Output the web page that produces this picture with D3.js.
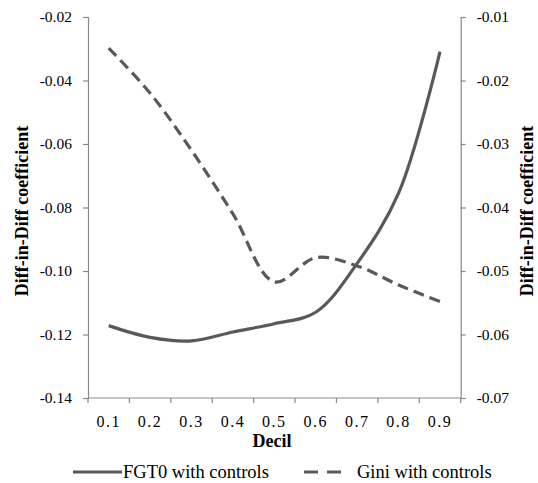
<!DOCTYPE html>
<html>
<head>
<meta charset="utf-8">
<script src="https://cdn.jsdelivr.net/npm/d3@7"></script>
<style>body { margin: 0; background: #fff; }</style>
</head>
<body>
<svg id="chart" width="538" height="483"></svg>
<script>
const deciles = ["0.1","0.2","0.3","0.4","0.5","0.6","0.7","0.8","0.9"];
const fgt0 = [-0.1172, -0.1209, -0.1220, -0.1192, -0.1166, -0.1130, -0.0976, -0.0755, -0.0309];
const gini = [-0.0149, -0.0220, -0.0310, -0.0410, -0.0517, -0.0479, -0.0492, -0.0522, -0.0548];
const leftTicks = [-0.02, -0.04, -0.06, -0.08, -0.10, -0.12, -0.14];
const rightTicks = [-0.01, -0.02, -0.03, -0.04, -0.05, -0.06, -0.07];
const seriesNames = ["FGT0 with controls", "Gini with controls"];

const svg = d3.select("#chart");
const W = 538, H = 483;
const m = {left: 88, right: 77.3, top: 17, bottom: 85};
const x0 = m.left, x1 = W - m.right, y0 = m.top, y1 = H - m.bottom;

const lineColor = "#595959";
const axisColor = "#898989";
const FONT = "'Liberation Serif'";

const x = d3.scaleBand().domain(deciles).range([x0, x1]).padding(0);
const yL = d3.scaleLinear().domain([-0.14, -0.02]).range([y1, y0]);
const yR = d3.scaleLinear().domain([-0.07, -0.01]).range([y1, y0]);
const cx = d => x(d) + x.bandwidth() / 2;
const fmt = d => d.toFixed(2);

const gL = svg.append("g").attr("transform", `translate(${x0},0)`)
  .call(d3.axisLeft(yL).tickValues(leftTicks).tickSize(5).tickPadding(11).tickFormat(fmt));
const gR = svg.append("g").attr("transform", `translate(${x1},0)`)
  .call(d3.axisRight(yR).tickValues(rightTicks).tickSize(5).tickPadding(11).tickFormat(fmt));
const gB = svg.append("g").attr("transform", `translate(0,${y1})`)
  .call(d3.axisBottom(x).tickSize(0).tickPadding(17.3));
const edges = deciles.map(d => x(d)).concat([x1]);
gB.selectAll("line.edge").data(edges).enter().append("line")
  .attr("class", "edge").attr("x1", d => d).attr("x2", d => d)
  .attr("y1", 0).attr("y2", 5);

[gL, gR, gB].forEach(g => {
  g.selectAll("path.domain").attr("stroke", axisColor).attr("stroke-width", 1.2);
  g.selectAll("line").attr("stroke", axisColor).attr("stroke-width", 1.2);
  g.selectAll("text").attr("fill", "#000")
    .style("font-family", FONT).style("font-size", "15.5px");
});
gB.selectAll("text").style("font-size", "16px").style("letter-spacing", "1.5px");
gB.selectAll("path.domain").attr("d", `M${x0},0H${x1}`);

const lineL = d3.line().x((d, i) => cx(deciles[i])).y(d => yL(d)).curve(d3.curveCatmullRom.alpha(0.5));
const lineR = d3.line().x((d, i) => cx(deciles[i])).y(d => yR(d)).curve(d3.curveCatmullRom.alpha(0.5));

svg.append("path").datum(gini).attr("d", lineR)
  .attr("fill", "none").attr("stroke", lineColor).attr("stroke-width", 3.2)
  .attr("stroke-dasharray", "11,6");
svg.append("path").datum(fgt0).attr("d", lineL)
  .attr("fill", "none").attr("stroke", lineColor).attr("stroke-width", 3.2);

function title(sel) {
  return sel.attr("text-anchor", "middle").style("font-weight", "bold")
    .style("font-size", "18px").style("font-family", FONT).attr("fill", "#000");
}
svg.append("text").attr("x", 272).attr("y", 446.7).call(title).text("Decil");
svg.append("text").attr("transform", "translate(28,211) rotate(-90)").call(title)
  .text("Diff-in-Diff  coefficient");
svg.append("text").attr("transform", "translate(533,211) rotate(-90)").call(title)
  .text("Diff-in-Diff  coefficient");

const ly = 472;
const leg = svg.append("g");
leg.append("line").attr("x1", 73).attr("x2", 122).attr("y1", ly).attr("y2", ly)
  .attr("stroke", lineColor).attr("stroke-width", 3.2);
leg.append("text").attr("x", 123).attr("y", 478.3)
  .style("font-family", FONT).style("font-size", "18.5px").text(seriesNames[0]);
leg.append("line").attr("x1", 304).attr("x2", 342).attr("y1", ly).attr("y2", ly)
  .attr("stroke", lineColor).attr("stroke-width", 3.2).attr("stroke-dasharray", "14,9");
leg.append("text").attr("x", 357).attr("y", 478.3)
  .style("font-family", FONT).style("font-size", "18.5px").text(seriesNames[1]);
</script>
</body>
</html>
